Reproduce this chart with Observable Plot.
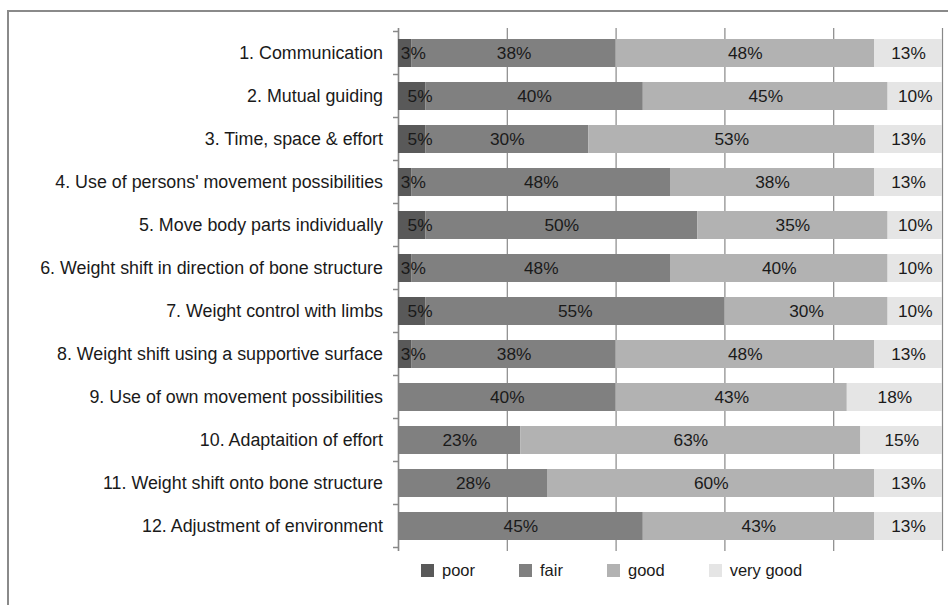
<!DOCTYPE html>
<html>
<head>
<meta charset="utf-8">
<script src="https://cdn.jsdelivr.net/npm/d3@7"></script>
<script src="https://cdn.jsdelivr.net/npm/@observablehq/plot@0.6"></script>
<style>
  html, body { margin: 0; padding: 0; background: #fff; }
  body { width: 948px; height: 605px; position: relative; overflow: hidden;
         font-family: "Liberation Sans", Arial, sans-serif; }
  #frame { position: absolute; left: 7px; top: 10px; width: 1000px; height: 700px;
           border-left: 2px solid #8a8a8a; border-top: 2px solid #8a8a8a; }
  #chart { position: absolute; left: 0; top: 0; }
  #legend { position: absolute; left: 421px; top: 561px; display: flex; align-items: center;
            font-size: 16.5px; color: #1a1a1a; line-height: 18px; }
  .item { display: flex; align-items: center; margin-right: 44px; }
  .swatch { width: 13px; height: 13px; margin-right: 8px; }
</style>
</head>
<body>
<div id="frame"></div>
<div id="chart"></div>
<div id="legend"></div>
<script>
// Assessment items, top to bottom
const items = [
  "1. Communication",
  "2. Mutual guiding",
  "3. Time, space & effort",
  "4. Use of persons' movement possibilities",
  "5. Move body parts individually",
  "6. Weight shift in direction of bone structure",
  "7. Weight control with limbs",
  "8. Weight shift using a supportive surface",
  "9. Use of own movement possibilities",
  "10. Adaptaition of effort",
  "11. Weight shift onto bone structure",
  "12. Adjustment of environment"
];

const ratings = ["poor", "fair", "good", "very good"];
const ratingColors = ["#595959", "#808080", "#b2b2b2", "#e5e5e5"];

// Share of ratings per item (%), in item order
const poor     = [2.5, 5, 5, 2.5, 5, 2.5, 5, 2.5, 0, 0, 0, 0];
const fair     = [37.5, 40, 30, 47.5, 50, 47.5, 55, 37.5, 40, 22.5, 27.5, 45];
const good     = [47.5, 45, 52.5, 37.5, 35, 40, 30, 47.5, 42.5, 62.5, 60, 42.5];
const veryGood = [12.5, 10, 12.5, 12.5, 10, 10, 10, 12.5, 17.5, 15, 12.5, 12.5];

const xTicks = [0, 20, 40, 60, 80, 100];

const series = [poor, fair, good, veryGood];
const rows = items.flatMap((item, i) =>
  ratings.map((rating, j) => ({item, rating, value: series[j][i]}))
);

const pct = d => Math.round(d.value) + "%";

// short ticks on the category axis, placed on the band boundaries
function bandBoundaryTicks(index, scales, values, dimensions) {
  const y = scales.y;
  const desc = scales.scales ? scales.scales.y : undefined;
  const get = (k) => typeof y[k] === "function" ? y[k]() : (desc && desc[k] != null ? desc[k] : undefined);
  let step = get("step");
  let bw = get("bandwidth");
  if (step == null) step = y(items[1]) - y(items[0]);
  if (bw == null) bw = step * 0.66;
  const centers = items.map(d => y(d) + bw / 2);
  const ys = centers.map(c => c - step / 2).concat(centers[centers.length - 1] + step / 2);
  const x0 = dimensions.marginLeft;
  const g = d3.create("svg:g").attr("stroke", "#888").attr("stroke-width", 1.5);
  g.selectAll("line").data(ys).join("line")
    .attr("x1", x0 - 5).attr("x2", x0)
    .attr("y1", d => d).attr("y2", d => d);
  return g.node();
}

const chart = Plot.plot({
  width: 948,
  height: 556,
  marginLeft: 398,
  marginRight: 6,
  marginTop: 28,
  marginBottom: 5,
  style: {fontFamily: "'Liberation Sans', Arial, sans-serif", fontSize: "17.5px", color: "#1a1a1a", background: "transparent"},
  x: {domain: [0, 100], axis: null},
  y: {domain: items, paddingInner: 0.34, paddingOuter: 0.17, axis: null, label: null},
  color: {domain: ratings, range: ratingColors},
  marks: [
    Plot.gridX(xTicks, {stroke: "#888", strokeOpacity: 1, strokeWidth: 1.2}),
    Plot.ruleX([0], {stroke: "#888", strokeWidth: 1.5}),
    bandBoundaryTicks,
    Plot.barX(rows, Plot.stackX({x: "value", y: "item", fill: "rating", order: ratings})),
    Plot.text(rows, Plot.stackX({
      x: "value", y: "item", z: "rating", order: ratings,
      text: d => d.rating === "poor" && d.value > 0 ? pct(d) : "",
      dx: 8, fill: "#1a1a1a", fontSize: 17.3
    })),
    Plot.text(rows, Plot.stackX({
      x: "value", y: "item", z: "rating", order: ratings,
      text: d => d.rating !== "poor" && d.value > 0 ? pct(d) : "",
      fill: "#1a1a1a", fontSize: 17.3
    })),
    Plot.axisY({tickSize: 0, tickPadding: 15.5, fontSize: 17.85, label: null, fill: "#1a1a1a"})
  ]
});
document.getElementById("chart").appendChild(chart);

// legend below the plot
const legend = d3.select("#legend");
ratings.forEach((r, i) => {
  const it = legend.append("div").attr("class", "item");
  it.append("div").attr("class", "swatch").style("background", ratingColors[i]);
  it.append("span").text(r);
});
</script>
</body>
</html>
